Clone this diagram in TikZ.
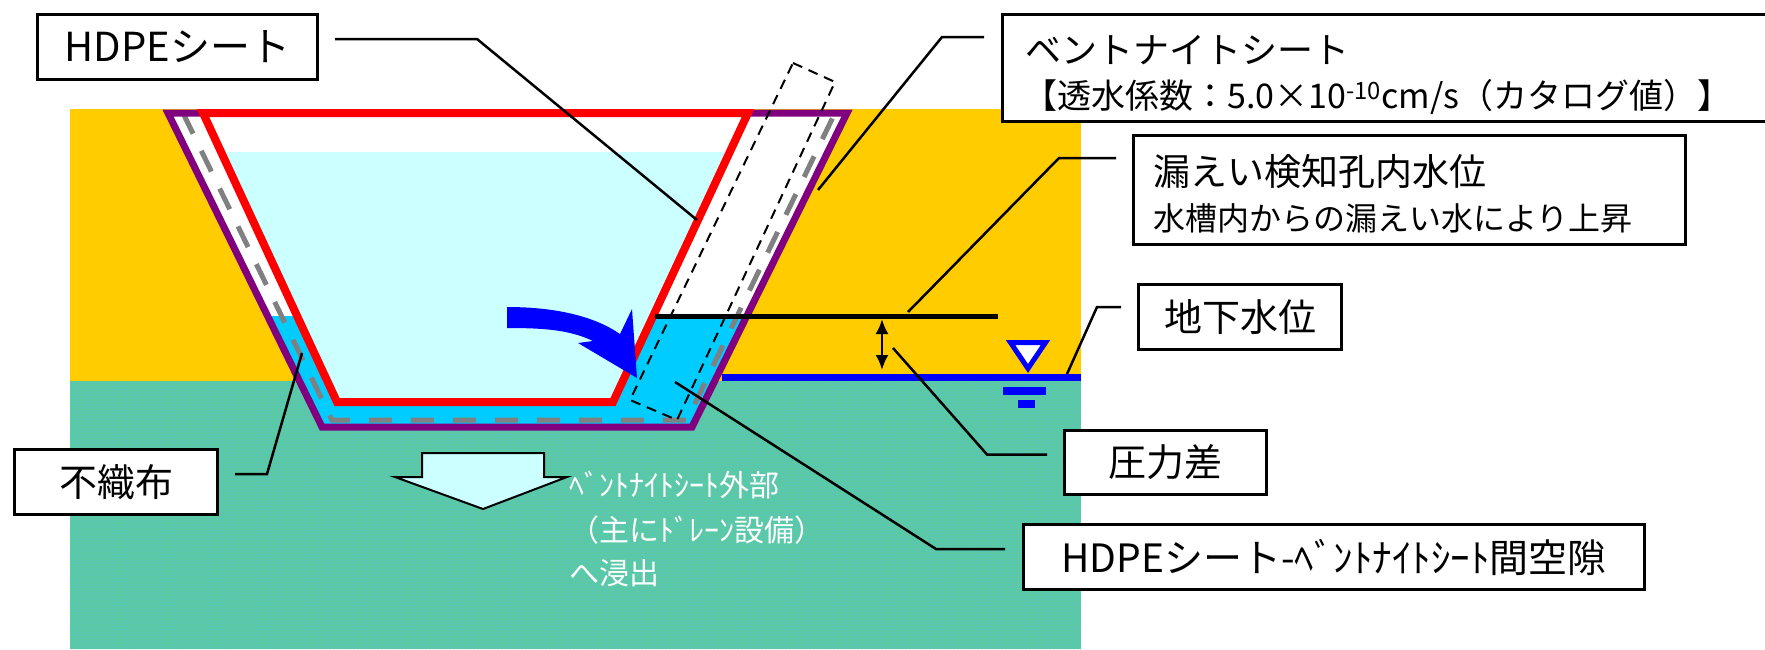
\documentclass[tikz,border=0pt]{standalone}
\usepackage{fontspec}
\setmainfont{Noto Sans CJK JP}
\usetikzlibrary{arrows.meta, positioning, calc, patterns}
\definecolor{soil}{RGB}{255,204,0}
\definecolor{aquifer}{RGB}{96,200,160}
\definecolor{aquidots}{RGB}{64,200,220}
\definecolor{liner}{RGB}{255,0,0}
\definecolor{bentonite}{RGB}{128,0,128}
\definecolor{water}{RGB}{204,255,255}
\definecolor{seep}{RGB}{0,204,255}
\definecolor{fabric}{RGB}{128,128,128}
\definecolor{flow}{RGB}{0,0,255}

\begin{document}
\begin{tikzpicture}[x=1pt, y=-1pt,
  box/.style={draw, line width=3pt, fill=white, inner sep=0pt, anchor=north west},
  leader/.style={line width=2.5pt},
  big/.style={font=\fontsize{38}{40}\selectfont},
  small/.style={font=\fontsize{32}{34}\selectfont},
  seepnote/.style={white, anchor=west, font=\fontsize{30}{32}\selectfont}]
  \useasboundingbox (0,0) rectangle (1765,649);

  % ground layers
  \fill[soil] (70,109) rectangle (1081,381);
  \fill[aquifer] (70,381) rectangle (1081,649);
  \fill[pattern=crosshatch dots, pattern color=aquidots] (70,381) rectangle (1081,649);

  % trench outline (bentonite) and HDPE liner
  \coordinate (pTL) at (168,113);
  \coordinate (pTR) at (847,113);
  \coordinate (pBR) at (692,427);
  \coordinate (pBL) at (322,427);
  \coordinate (rTL) at (203,113);
  \coordinate (rTR) at (748,113);
  \coordinate (rBR) at (613,402);
  \coordinate (rBL) at (337,402);

  \fill[white] (pTL) -- (pTR) -- (pBR) -- (pBL) -- cycle;
  \begin{scope}
    \clip (0,316) rectangle (1765,649);
    \fill[seep] (pTL) -- (pTR) -- (pBR) -- (pBL) -- cycle;
  \end{scope}
  \fill[white] (rTL) -- (rTR) -- (rBR) -- (rBL) -- cycle;
  \begin{scope}
    \clip (0,152) rectangle (1765,649);
    \fill[water] (rTL) -- (rTR) -- (rBR) -- (rBL) -- cycle;
  \end{scope}

  % non-woven fabric
  \draw[fabric, line width=5pt, dash pattern=on 23pt off 19pt]
    (183,113) -- (332,420) -- (687,420) -- (834,115);

  \draw[bentonite, line width=7pt, line join=miter] (pTL) -- (pTR) -- (pBR) -- (pBL) -- cycle;
  \draw[liner, line width=8pt, line join=miter] (rTL) -- (rTR) -- (rBR) -- (rBL) -- cycle;

  % bentonite sheet (pulled out)
  \draw[line width=2pt, dash pattern=on 10pt off 7pt]
    (793,63) -- (835,82) -- (677,420) -- (630,400) -- cycle;

  % leakage flow
  \fill[flow] (507,307) .. controls (560,307) and (597,318) .. (620,334)
    -- (632,309) -- (637,378) -- (578,343) -- (593,341)
    .. controls (570,330) and (545,328) .. (507,328) -- cycle;

  % levels
  \coordinate (lvlL) at (655,316);
  \coordinate (lvlR) at (998,316);
  \draw[line width=5pt] (lvlL) -- (lvlR);
  \coordinate (dpTop) at (882,319);
  \coordinate (dpBot) at (882,370);
  \draw[line width=2.5pt, {Latex[length=15pt,width=13pt]}-{Latex[length=15pt,width=13pt]}] (dpTop) -- (dpBot);
  \coordinate (gwL) at (722,377);
  \coordinate (gwR) at (1081,377);
  \draw[flow, line width=7pt] (gwL) -- (gwR);

  % water table mark
  \draw[flow, line width=5pt, fill=white, line join=miter] (1010.5,342.5) -- (1045.5,342.5) -- (1028,368.5) -- cycle;
  \fill[flow] (1003,387) rectangle (1046,395);
  \fill[flow] (1018,400) rectangle (1035,408);

  % seepage to outside
  \draw[line width=2pt, fill=water] (422,453) -- (544,453) -- (544,477) -- (567,477)
    -- (483,509) -- (395,477) -- (422,477) -- cycle;
  \node[seepnote] (out1) at (566,485) {ﾍﾞﾝﾄﾅｲﾄｼｰﾄ外部};
  \node[seepnote] (out2) at (566,530) {（主にﾄﾞﾚｰﾝ設備）};
  \node[seepnote] (out3) at (566,573) {へ浸出};

  % labels
  \node[box, font=\fontsize{40}{42}\selectfont, minimum width=280pt, minimum height=65pt] (hdpe) at (36,13) {HDPEシート};
  \node[box, minimum width=800pt, minimum height=107pt] (bent) at (1001,13) {};
  \node[anchor=west, font=\fontsize{36}{40}\selectfont] (bentT) at (1022,50) {ベントナイトシート};
  \node[anchor=west, font=\fontsize{34}{36}\selectfont] (bentK) at (1020,97)
    {【透水係数：5.0×10\textsuperscript{-10}cm/s（カタログ値）】};
  \node[box, minimum width=552pt, minimum height=109pt] (leak) at (1132,134) {};
  \node[anchor=west, font=\fontsize{37}{40}\selectfont] (leakT) at (1150,172) {漏えい検知孔内水位};
  \node[anchor=west, small] (leakN) at (1150,218) {水槽内からの漏えい水により上昇};
  \node[box, big, minimum width=203pt, minimum height=65pt] (gw) at (1137,283) {地下水位};
  \node[box, big, minimum width=202pt, minimum height=64pt] (dp) at (1063,429) {圧力差};
  \node[box, font=\fontsize{39}{42}\selectfont, minimum width=621pt, minimum height=65pt] (gap) at (1022,523) {HDPEシート-ﾍﾞﾝﾄﾅｲﾄｼｰﾄ間空隙};
  \node[box, big, minimum width=203pt, minimum height=65pt] (nw) at (13,448) {不織布};

  % leader ends
  \coordinate (hdpeTip) at (697,220);
  \coordinate (bentTip) at (818,190);
  \coordinate (leakTip) at (908,312);
  \coordinate (gwTip) at (1067,374);
  \coordinate (dpTip) at (893,348);
  \coordinate (gapTip) at (675,382);
  \coordinate (nwTip) at (302,353);

  \draw[leader] ($(hdpe.east)+(16,-8)$) -- ++(142,0) -- (hdpeTip);
  \draw[leader] ($(bent.north west)+(-17,24)$) -- ++(-42,0) -- (bentTip);
  \draw[leader] ($(leak.north west)+(-16,24)$) -- ++(-57,0) -- (leakTip);
  \draw[leader] ($(gw.north west)+(-16,24)$) -- ++(-24,0) -- (gwTip);
  \draw[leader] ($(dp.west)+(-16,-8)$) -- ++(-60,0) -- (dpTip);
  \draw[leader] ($(gap.west)+(-17,-8)$) -- ++(-69,0) -- (gapTip);
  \draw[leader] ($(nw.east)+(16,-8)$) -- ++(32,0) -- (nwTip);
\end{tikzpicture}
\end{document}
